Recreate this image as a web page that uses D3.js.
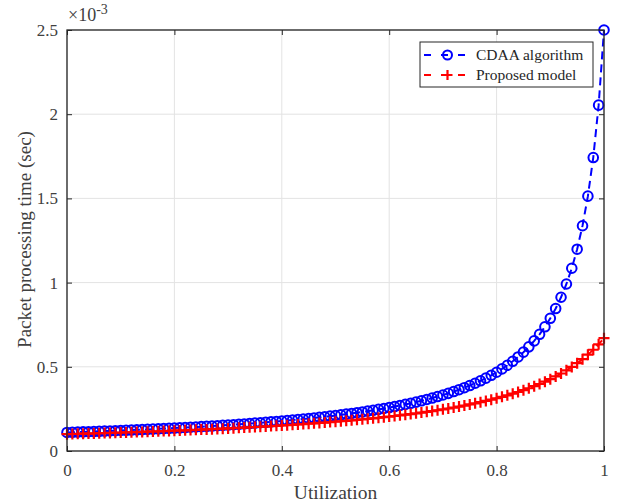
<!DOCTYPE html>
<html>
<head>
<meta charset="utf-8">
<script src="https://cdn.jsdelivr.net/npm/d3@7/dist/d3.min.js"></script>
<style>
  html, body { margin: 0; padding: 0; background: #fff; }
  svg { display: block; }
  text { font-family: "Liberation Serif", "Times New Roman", serif; }
</style>
</head>
<body>
<svg id="chart" width="619" height="503"></svg>
<script>
// Utilization levels (x)
const utilization = [
  0.00,0.01,0.02,0.03,0.04,0.05,0.06,0.07,0.08,0.09,
  0.10,0.11,0.12,0.13,0.14,0.15,0.16,0.17,0.18,0.19,
  0.20,0.21,0.22,0.23,0.24,0.25,0.26,0.27,0.28,0.29,
  0.30,0.31,0.32,0.33,0.34,0.35,0.36,0.37,0.38,0.39,
  0.40,0.41,0.42,0.43,0.44,0.45,0.46,0.47,0.48,0.49,
  0.50,0.51,0.52,0.53,0.54,0.55,0.56,0.57,0.58,0.59,
  0.60,0.61,0.62,0.63,0.64,0.65,0.66,0.67,0.68,0.69,
  0.70,0.71,0.72,0.73,0.74,0.75,0.76,0.77,0.78,0.79,
  0.80,0.81,0.82,0.83,0.84,0.85,0.86,0.87,0.88,0.89,
  0.90,0.91,0.92,0.93,0.94,0.95,0.96,0.97,0.98,0.99,1.00
];

// Packet processing time, in units of 1e-3 s
const cdaa = [
  0.1100,0.1111,0.1121,0.1133,0.1144,0.1155,0.1167,0.1179,0.1191,0.1204,
  0.1216,0.1229,0.1243,0.1256,0.1270,0.1284,0.1299,0.1314,0.1329,0.1344,
  0.1360,0.1376,0.1393,0.1410,0.1428,0.1446,0.1464,0.1483,0.1502,0.1522,
  0.1542,0.1563,0.1585,0.1607,0.1630,0.1653,0.1677,0.1702,0.1728,0.1754,
  0.1781,0.1809,0.1838,0.1868,0.1899,0.1931,0.1963,0.1998,0.2033,0.2069,
  0.2107,0.2147,0.2187,0.2230,0.2274,0.2320,0.2367,0.2417,0.2469,0.2523,
  0.2580,0.2639,0.2701,0.2766,0.2834,0.2905,0.2981,0.3060,0.3144,0.3232,
  0.3325,0.3424,0.3529,0.3641,0.3760,0.3887,0.4023,0.4169,0.4325,0.4494,
  0.4677,0.4875,0.5091,0.5326,0.5585,0.5870,0.6185,0.6537,0.6930,0.7375,
  0.7880,0.8459,0.9130,0.9917,1.0852,1.1983,1.3376,1.5135,1.7427,2.0538,2.5000
];

const proposed = [
  0.1000,0.1009,0.1017,0.1026,0.1035,0.1044,0.1054,0.1063,0.1073,0.1083,
  0.1093,0.1103,0.1114,0.1124,0.1135,0.1146,0.1158,0.1169,0.1181,0.1193,
  0.1205,0.1218,0.1230,0.1243,0.1257,0.1270,0.1284,0.1298,0.1313,0.1328,
  0.1343,0.1358,0.1374,0.1390,0.1407,0.1424,0.1441,0.1459,0.1478,0.1497,
  0.1516,0.1536,0.1556,0.1577,0.1598,0.1620,0.1643,0.1666,0.1690,0.1715,
  0.1740,0.1766,0.1793,0.1821,0.1850,0.1879,0.1910,0.1941,0.1974,0.2008,
  0.2043,0.2079,0.2116,0.2155,0.2195,0.2237,0.2280,0.2325,0.2372,0.2421,
  0.2472,0.2525,0.2581,0.2639,0.2699,0.2763,0.2829,0.2899,0.2972,0.3049,
  0.3131,0.3216,0.3307,0.3402,0.3504,0.3611,0.3726,0.3848,0.3978,0.4117,
  0.4267,0.4428,0.4601,0.4788,0.4992,0.5213,0.5455,0.5720,0.6013,0.6337,0.6698
];

const xTicks = [0, 0.2, 0.4, 0.6, 0.8, 1];
const yTicks = [0, 0.5, 1, 1.5, 2, 2.5];
const seriesNames = ["CDAA algorithm", "Proposed model"];

const svg = d3.select("#chart");
const m = { left: 67, right: 604, top: 30, bottom: 451 };

const x = d3.scaleLinear().domain([0, 1]).range([m.left, m.right]);
const y = d3.scaleLinear().domain([0, 2.5]).range([m.bottom, m.top]);

const axisColor = "#262626";
const labelColor = "#404040";

// grid
const grid = svg.append("g");
grid.selectAll("line.gx").data(xTicks).join("line")
  .attr("x1", d => x(d)).attr("x2", d => x(d))
  .attr("y1", m.top).attr("y2", m.bottom)
  .attr("stroke", "#e3e3e3").attr("stroke-width", 1);
grid.selectAll("line.gy").data(yTicks).join("line")
  .attr("x1", m.left).attr("x2", m.right)
  .attr("y1", d => y(d)).attr("y2", d => y(d))
  .attr("stroke", "#e3e3e3").attr("stroke-width", 1);

// axes with inward ticks
function styleAxis(g) {
  g.select(".domain").remove();
  g.selectAll(".tick line").attr("stroke", axisColor).attr("stroke-width", 1);
  g.selectAll(".tick text").attr("fill", labelColor)
    .style("font-family", "'Liberation Serif', serif").style("font-size", "17px");
}
svg.append("g").attr("transform", `translate(0,${m.bottom})`)
  .call(d3.axisBottom(x).tickValues(xTicks).tickFormat(d3.format("")).tickSizeInner(-5).tickPadding(13))
  .call(styleAxis);
svg.append("g").attr("transform", `translate(0,${m.top})`)
  .call(d3.axisTop(x).tickValues(xTicks).tickFormat("").tickSizeInner(-5))
  .call(styleAxis);
svg.append("g").attr("transform", `translate(${m.left},0)`)
  .call(d3.axisLeft(y).tickValues(yTicks).tickFormat(d3.format("")).tickSizeInner(-5).tickPadding(9))
  .call(styleAxis);
svg.append("g").attr("transform", `translate(${m.right},0)`)
  .call(d3.axisRight(y).tickValues(yTicks).tickFormat("").tickSizeInner(-5))
  .call(styleAxis);

// series
const blue = "#0000ff", red = "#ff0000";
const pts = (vals) => utilization.map((u, i) => [u, vals[i]]);
const line = d3.line().x(d => x(d[0])).y(d => y(d[1]));

svg.append("path").datum(pts(cdaa)).attr("d", line)
  .attr("fill", "none").attr("stroke", blue).attr("stroke-width", 2)
  .attr("stroke-dasharray", "8,5");
svg.append("path").datum(pts(proposed)).attr("d", line)
  .attr("fill", "none").attr("stroke", red).attr("stroke-width", 2)
  .attr("stroke-dasharray", "8,5");

svg.append("g").selectAll("circle").data(pts(cdaa)).join("circle")
  .attr("cx", d => x(d[0])).attr("cy", d => y(d[1])).attr("r", 4.8)
  .attr("fill", "none").attr("stroke", blue).attr("stroke-width", 2);

svg.append("g").selectAll("path").data(pts(proposed)).join("path")
  .attr("transform", d => `translate(${x(d[0])},${y(d[1])})`)
  .attr("d", "M-5.5,0H5.5M0,-5.5V5.5")
  .attr("stroke", red).attr("stroke-width", 2.2).attr("fill", "none");

// frame
svg.append("rect").attr("x", m.left).attr("y", m.top)
  .attr("width", m.right - m.left).attr("height", m.bottom - m.top)
  .attr("fill", "none").attr("stroke", axisColor).attr("stroke-width", 1.3);

// exponent label
const ex = svg.append("text").attr("x", 68).attr("y", 21).attr("fill", labelColor)
  .style("font-size", "18px");
ex.append("tspan").text("\u00d710");
ex.append("tspan").attr("dy", -7).style("font-size", "14px").text("-3");

// axis titles
svg.append("text").attr("x", (m.left + m.right) / 2).attr("y", 499)
  .attr("text-anchor", "middle").attr("fill", labelColor)
  .style("font-size", "19.5px").text("Utilization");
svg.append("text")
  .attr("transform", `translate(31,${(m.top + m.bottom) / 2 - 1}) rotate(-90)`)
  .attr("text-anchor", "middle").attr("fill", labelColor)
  .style("font-size", "19px").text("Packet processing time (sec)");

// legend
const lg = svg.append("g");
lg.append("rect").attr("x", 420).attr("y", 42).attr("width", 173).attr("height", 45)
  .attr("fill", "#fff").attr("stroke", axisColor).attr("stroke-width", 1);
const entries = [
  { name: seriesNames[0], color: blue, marker: "circle" },
  { name: seriesNames[1], color: red, marker: "plus" }
];
entries.forEach((e, i) => {
  const cy = 55 + i * 20;
  lg.append("line").attr("x1", 424).attr("x2", 471).attr("y1", cy).attr("y2", cy)
    .attr("stroke", e.color).attr("stroke-width", 2).attr("stroke-dasharray", "7,10");
  if (e.marker === "circle") {
    lg.append("circle").attr("cx", 447.5).attr("cy", cy).attr("r", 4.5)
      .attr("fill", "none").attr("stroke", e.color).attr("stroke-width", 2);
  } else {
    lg.append("path").attr("transform", `translate(447.5,${cy})`).attr("d", "M-5,0H5M0,-5V5")
      .attr("stroke", e.color).attr("stroke-width", 2.2);
  }
  lg.append("text").attr("x", 476).attr("y", cy + 5).attr("fill", "#262626")
    .style("font-size", "15.5px").text(e.name);
});
</script>
</body>
</html>
